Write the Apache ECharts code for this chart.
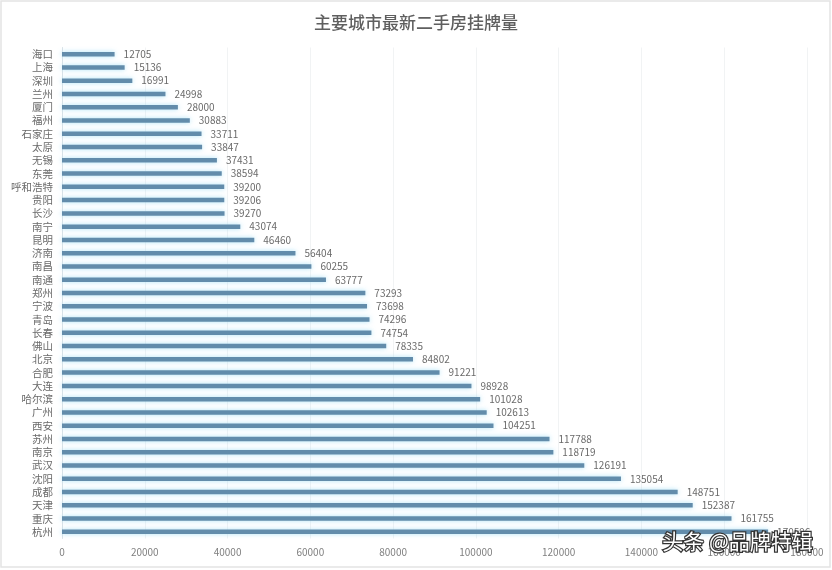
<!DOCTYPE html>
<html>
<head>
<meta charset="utf-8">
<style>html,body{margin:0;padding:0;background:#fff}#chart{width:832px;height:570px}</style>
<script src="https://cdn.jsdelivr.net/npm/echarts@6/dist/echarts.min.js"></script>
</head>
<body>
<div id="chart"></div>
<script>
const cities = ['海口','上海','深圳','兰州','厦门','福州','石家庄','太原','无锡','东莞','呼和浩特','贵阳','长沙','南宁','昆明','济南','南昌','南通','郑州','宁波','青岛','长春','佛山','北京','合肥','大连','哈尔滨','广州','西安','苏州','南京','武汉','沈阳','成都','天津','重庆','杭州'];
const listings = [12705,15136,16991,24998,28000,30883,33711,33847,37431,38594,39200,39206,39270,43074,46460,56404,60255,63777,73293,73698,74296,74754,78335,84802,91221,98928,101028,102613,104251,117788,118719,126191,135054,148751,152387,161755,170596];

const chart = echarts.init(document.getElementById('chart'));
chart.setOption({
  backgroundColor: '#fff',
  animation: false,
  textStyle: { fontFamily: '"Noto Sans CJK SC", sans-serif' },
  title: {
    text: '主要城市最新二手房挂牌量',
    left: 'center',
    top: 9,
    textStyle: { fontSize: 17, fontWeight: 500, color: '#5f5f5f' }
  },
  graphic: [
    { type: 'rect', shape: { x: 1, y: 1, width: 829, height: 566 }, style: { fill: 'none', stroke: '#e4e4e4', lineWidth: 1.5 }, silent: true },
    { type: 'text', z: 100, left: 661, top: 529, style: { text: '头条 @品牌特辑', fontSize: 21, fill: '#fff', stroke: '#333', lineWidth: 2.5, fontFamily: '"Noto Sans CJK SC", sans-serif' } }
  ],
  grid: { left: 62, top: 47.5, width: 745, height: 491, containLabel: false },
  xAxis: {
    type: 'value',
    min: 0,
    max: 180000,
    interval: 20000,
    axisLine: { show: false },
    axisTick: { show: false },
    axisLabel: { fontSize: 10, color: '#808080', margin: 9, formatter: v => String(v) },
    splitLine: { lineStyle: { color: '#f1f3f4', width: 1 } }
  },
  yAxis: {
    type: 'category',
    inverse: true,
    data: cities,
    axisLine: { lineStyle: { color: '#dbe3e8' } },
    axisTick: { show: false },
    axisLabel: { fontSize: 10.5, color: '#6a6a6a', margin: 9, interval: 0 }
  },
  series: [{
    type: 'bar',
    data: listings,
    barWidth: 4.5,
    itemStyle: { color: '#628cab', shadowColor: 'rgba(140,215,245,0.7)', shadowBlur: 5 },
    label: { show: true, position: 'right', distance: 9, fontSize: 10, color: '#6a6a6a' }
  }]
});
</script>
</body>
</html>
